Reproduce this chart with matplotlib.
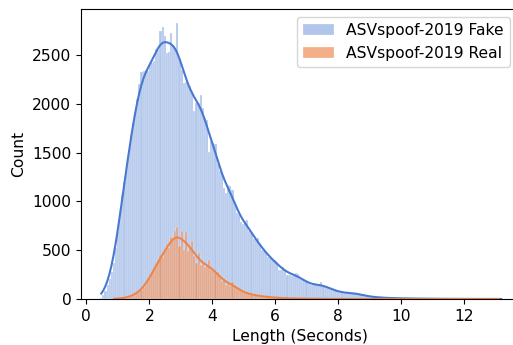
import numpy as np
import pandas as pd
import matplotlib
matplotlib.use("Agg")
import matplotlib.pyplot as plt
import seaborn as sns

# bin layout (seconds)
bin_lo, bin_hi, n_bins = 0.44, 13.22, 190

# counts per bin, rows of ten bins
fake_counts = [
    10, 40, 80, 140, 200, 280, 370, 520, 700, 880,
    1060, 1200, 1380, 1520, 1680, 1800, 1920, 2050, 2200, 2320,
    2340, 2350, 2330, 2400, 2420, 2440, 2560, 2550, 2740, 2790,
    2690, 2520, 2530, 2720, 2600, 2560, 2830, 2460, 2350, 2210,
    2220, 2200, 2180, 2120, 1930, 2010, 2010, 2090, 1960, 1850,
    1830, 1510, 1620, 1600, 1590, 1380, 1310, 1300, 1140, 1090,
    1170, 1160, 1120, 960, 880, 860, 790, 770, 800, 810,
    700, 680, 610, 600, 620, 560, 500, 490, 480, 430,
    420, 400, 400, 380, 300, 300, 330, 300, 250, 245,
    240, 250, 265, 260, 200, 195, 190, 185, 150, 145,
    145, 140, 140, 150, 175, 130, 125, 120, 110, 100,
    90, 85, 70, 65, 65, 65, 62, 62, 65, 62,
    60, 55, 50, 45, 35, 30, 28, 26, 22, 20,
    18, 16, 15, 14, 12, 11, 10, 9, 9, 8,
    8, 7, 7, 6, 6, 5, 5, 5, 4, 4,
    4, 4, 3, 3, 3, 3, 2, 2, 2, 2,
    2, 2, 2, 1, 1, 1, 1, 1, 1, 1,
    1, 1, 1, 1, 1, 0, 1, 0, 1, 0,
    1, 0, 0, 1, 0, 0, 1, 0, 0, 1,
]
real_counts = [
    0, 0, 0, 0, 0, 0, 1, 2, 3, 5,
    7, 10, 14, 18, 25, 35, 45, 60, 75, 92,
    115, 140, 180, 220, 265, 300, 350, 390, 450, 430,
    480, 560, 520, 640, 600, 700, 740, 540, 700, 500,
    690, 490, 520, 590, 440, 370, 470, 350, 365, 330,
    335, 400, 300, 290, 265, 280, 230, 180, 210, 145,
    165, 130, 178, 143, 109, 92, 80, 70, 60, 58,
    50, 45, 41, 38, 33, 30, 26, 24, 22, 20,
    18, 16, 14, 13, 12, 10, 9, 8, 8, 7,
    6, 6, 5, 5, 4, 4, 4, 3, 3, 3,
    3, 2, 2, 2, 2, 2, 1, 1, 1, 1,
    1, 1, 1, 0, 1, 0, 1, 0, 1, 0,
    1, 0, 0, 1, 0, 0, 0, 1, 0, 0,
    0, 1, 0, 0, 0, 0, 1, 0, 0, 0,
    0, 0, 1, 0, 0, 0, 0, 0, 1, 0,
    0, 0, 0, 0, 1, 0, 0, 0, 0, 0,
    0, 1, 0, 0, 0, 0, 0, 0, 0, 0,
    0, 0, 0, 1, 0, 0, 0, 0, 0, 0,
    0, 0, 0, 0, 0, 0, 0, 0, 1, 0,
]
labels = ["ASVspoof-2019 Fake", "ASVspoof-2019 Real"]

plt.rcParams["font.size"] = 11.2
colors = sns.color_palette("muted")[:2]
bar_alpha = [0.42, 0.65]

edges = np.linspace(bin_lo, bin_hi, n_bins + 1)
centers = (edges[:-1] + edges[1:]) / 2

fig = plt.figure(figsize=(5.13, 3.45), dpi=100)
ax = fig.add_axes([81 / 513, 46 / 345, 437 / 513, 290 / 345])

for counts, label, color, alpha in zip([fake_counts, real_counts], labels,
                                       colors, bar_alpha):
    df = pd.DataFrame({"length": centers, "count": counts})
    df = df[df["count"] > 0]
    # bandwidth roughly as the raw samples would have given
    w = df["count"].to_numpy(float)
    neff = w.sum() ** 2 / (w ** 2).sum()
    bw = 1.3 * (neff / w.sum()) ** 0.2
    sns.histplot(data=df, x="length", weights="count", bins=edges.tolist(),
                 kde=True, kde_kws={"bw_adjust": bw}, color=color,
                 alpha=alpha, edgecolor=(1, 1, 1, 0.6), linewidth=0.3,
                 label=label, ax=ax)

ax.set_xlim(-0.17, 13.72)
ax.set_ylim(0, 2970)
ax.set_xlabel("Length (Seconds)")
ax.set_ylabel("Count")
ax.legend(loc="upper right")

fig.savefig("out.png", dpi=100)
